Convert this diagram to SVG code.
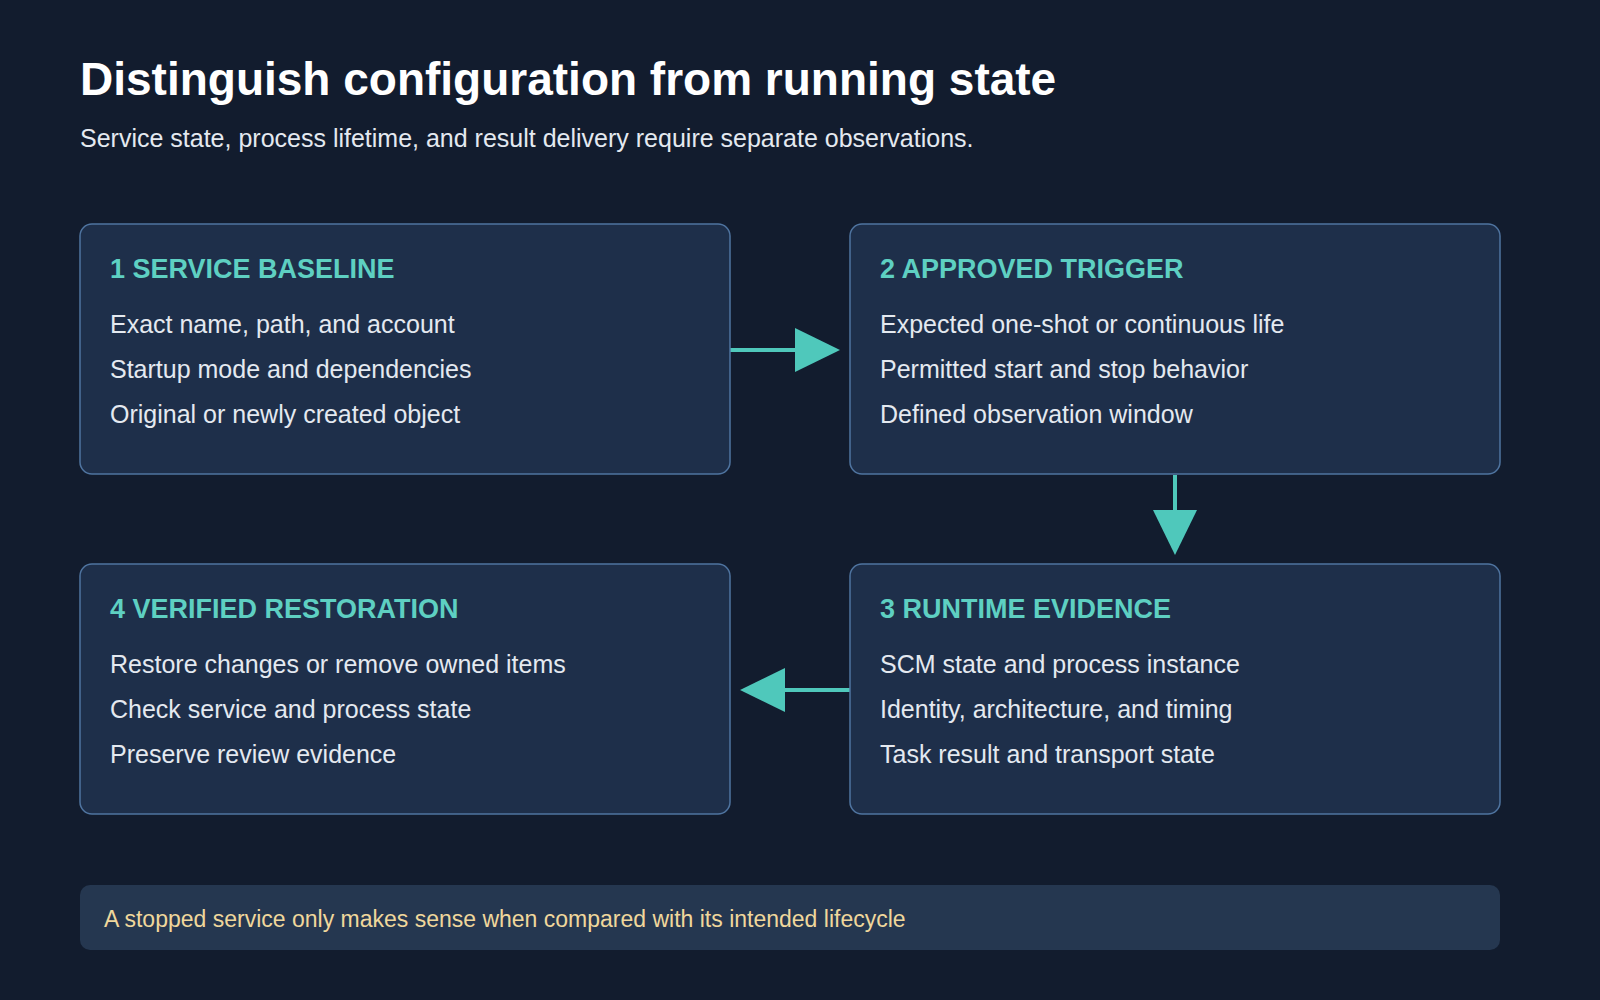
<svg xmlns="http://www.w3.org/2000/svg" width="1600" height="1000" viewBox="0 0 1600 1000">
<style>
.box{fill:#1e2f4a;stroke:#4f74a0;stroke-width:1.5}
.h{font-family:"Liberation Sans",Arial,sans-serif;font-weight:bold;font-size:27px;fill:#5ed0c2}
.t{font-family:"Liberation Sans",Arial,sans-serif;font-size:25px;fill:#e4e9f0}
.c{stroke:#4fc8bb;stroke-width:4;fill:none}
.ah{fill:#4fc8bb}
</style>
<rect width="1600" height="1000" fill="#121c2e"/>
<text x="80" y="95" font-family="Liberation Sans,Arial,sans-serif" font-weight="bold" font-size="46" fill="#ffffff">Distinguish configuration from running state</text>
<text x="80" y="147" class="t" font-size="25">Service state, process lifetime, and result delivery require separate observations.</text>
<g id="connectors">
<line class="c" x1="730" y1="350" x2="800" y2="350"/>
<polygon class="ah" points="795,328 840,350 795,372"/>
<line class="c" x1="1175" y1="475" x2="1175" y2="515"/>
<polygon class="ah" points="1153,510 1197,510 1175,555"/>
<line class="c" x1="850" y1="690" x2="780" y2="690"/>
<polygon class="ah" points="785,668 740,690 785,712"/>
</g>
<g id="n1"><rect class="box" x="80" y="224" width="650" height="250" rx="12"/>
<text class="h" x="110" y="278">1 SERVICE BASELINE</text>
<text class="t" x="110" y="333">Exact name, path, and account</text>
<text class="t" x="110" y="378">Startup mode and dependencies</text>
<text class="t" x="110" y="423">Original or newly created object</text></g>
<g id="n2"><rect class="box" x="850" y="224" width="650" height="250" rx="12"/>
<text class="h" x="880" y="278">2 APPROVED TRIGGER</text>
<text class="t" x="880" y="333">Expected one-shot or continuous life</text>
<text class="t" x="880" y="378">Permitted start and stop behavior</text>
<text class="t" x="880" y="423">Defined observation window</text></g>
<g id="n3"><rect class="box" x="850" y="564" width="650" height="250" rx="12"/>
<text class="h" x="880" y="618">3 RUNTIME EVIDENCE</text>
<text class="t" x="880" y="673">SCM state and process instance</text>
<text class="t" x="880" y="718">Identity, architecture, and timing</text>
<text class="t" x="880" y="763">Task result and transport state</text></g>
<g id="n4"><rect class="box" x="80" y="564" width="650" height="250" rx="12"/>
<text class="h" x="110" y="618">4 VERIFIED RESTORATION</text>
<text class="t" x="110" y="673">Restore changes or remove owned items</text>
<text class="t" x="110" y="718">Check service and process state</text>
<text class="t" x="110" y="763">Preserve review evidence</text></g>
<g id="footer"><rect x="80" y="885" width="1420" height="65" rx="10" fill="#253750"/>
<text x="104" y="927" font-family="Liberation Sans,Arial,sans-serif" font-size="23" fill="#f0d79c">A stopped service only makes sense when compared with its intended lifecycle</text></g>
</svg>
